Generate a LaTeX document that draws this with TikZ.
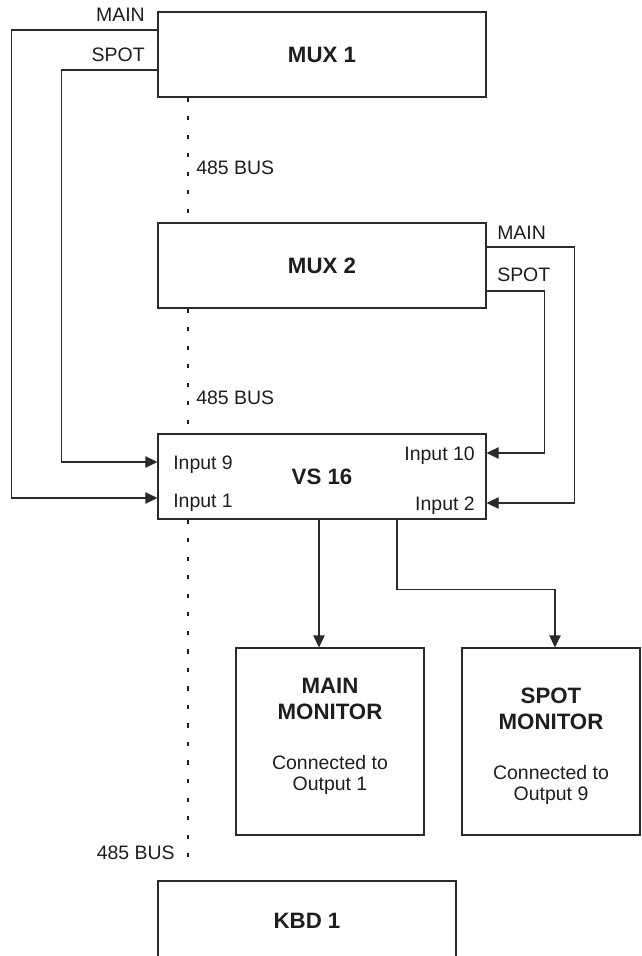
\documentclass[tikz,border=0pt]{standalone}
\usepackage{fontspec}
\setmainfont{Liberation Sans}
\usepackage{tikz}
\usetikzlibrary{positioning,arrows.meta}

\definecolor{linec}{HTML}{2A2A2A}
\definecolor{textc}{HTML}{1E1E1E}

\begin{document}
\begin{tikzpicture}[x=0.75pt, y=-0.75pt,
    every node/.style={align=center, text=textc, font=\fontsize{14.6}{15.8}\selectfont},
    unit/.style={draw=linec, line width=0.8pt, inner sep=0pt, minimum width=246pt, minimum height=63.75pt, font=\fontsize{16.7}{19.5}\selectfont\bfseries},
    monitor/.style={draw=linec, line width=0.8pt, inner sep=0pt, minimum height=140.25pt},
    title/.style={inner sep=0pt, font=\fontsize{16.7}{19.5}\selectfont\bfseries},
    lbl/.style={inner sep=0pt},
    wire/.style={draw=linec, line width=0.8pt},
    feed/.style={wire, -{Triangle[length=9pt, width=8.5pt]}},
    bus/.style={draw=textc, line width=1.8pt, dash pattern=on 3.2pt off 10.7pt}]
    \useasboundingbox (0,0) rectangle (642,956);

    % units on the bus
    \node (mux1) [unit] at (322,54.5) {MUX 1};
    \node (mux2) [unit] at (322,265.5) {MUX 2};
    \node (vs16) [unit] at (322,476.5) {VS 16};
    \node (kbd1) [unit, minimum width=223.5pt, minimum height=60pt] at (307,921) {KBD 1};

    % monitors
    \node (mainmon) [monitor, minimum width=141pt] at (330,741.5) {};
    \node (spotmon) [monitor, minimum width=133.5pt] at (551,741.5) {};
    \node (mainhead) [title] at (330,699) {MAIN\\MONITOR};
    \node (mainnote) [lbl] at (330,775) {Connected to\\Output 1};
    \node (spothead) [title] at (551,708.5) {SPOT\\MONITOR};
    \node (spotnote) [lbl] at (551,784.5) {Connected to\\Output 9};

    % labels
    \node (mux1main) [lbl, anchor=east] at (145,15) {MAIN};
    \node (mux1spot) [lbl, anchor=east] at (145,55) {SPOT};
    \node (mux2main) [lbl, anchor=west] at (497,233) {MAIN};
    \node (mux2spot) [lbl, anchor=west] at (497,275) {SPOT};
    \node (in9) [lbl, anchor=base west] at (173,469) {Input 9};
    \node (in1) [lbl, anchor=base west] at (173,507) {Input 1};
    \node (in10) [lbl, anchor=base east] at (475,460) {Input 10};
    \node (in2) [lbl, anchor=base east] at (475,510) {Input 2};
    \node (bus1) [lbl, anchor=west] at (196,168) {485 BUS};
    \node (bus2) [lbl, anchor=west] at (196,398) {485 BUS};
    \node (bus3) [lbl, anchor=east] at (175,853) {485 BUS};
    \coordinate (busend) at (188,867);

    % 485 bus
    \draw[bus] (mux1.south -| 188,0) -- (mux2.north -| 188,0);
    \draw[bus] (mux2.south -| 188,0) -- (vs16.north -| 188,0);
    \draw[bus] (vs16.south -| 188,0) -- (busend);

    % video feeds
    \draw[feed] (mux1.west |- 0,30) -- ++(-146,0) |- (vs16.west |- 0,498);
    \draw[feed] (mux1.west |- 0,70) -- ++(-96,0) |- (vs16.west |- 0,462);
    \draw[feed] (mux2.east |- 0,247) -- ++(88,0) |- (vs16.east |- 0,503);
    \draw[feed] (mux2.east |- 0,291) -- ++(58,0) |- (vs16.east |- 0,453);

    % outputs
    \draw[feed] (vs16.south -| 319,0) -- (mainmon.north -| 319,0);
    \draw[feed] (vs16.south -| 397,0) -- ++(0,70) -| (spotmon.north -| 555,0);
\end{tikzpicture}
\end{document}
